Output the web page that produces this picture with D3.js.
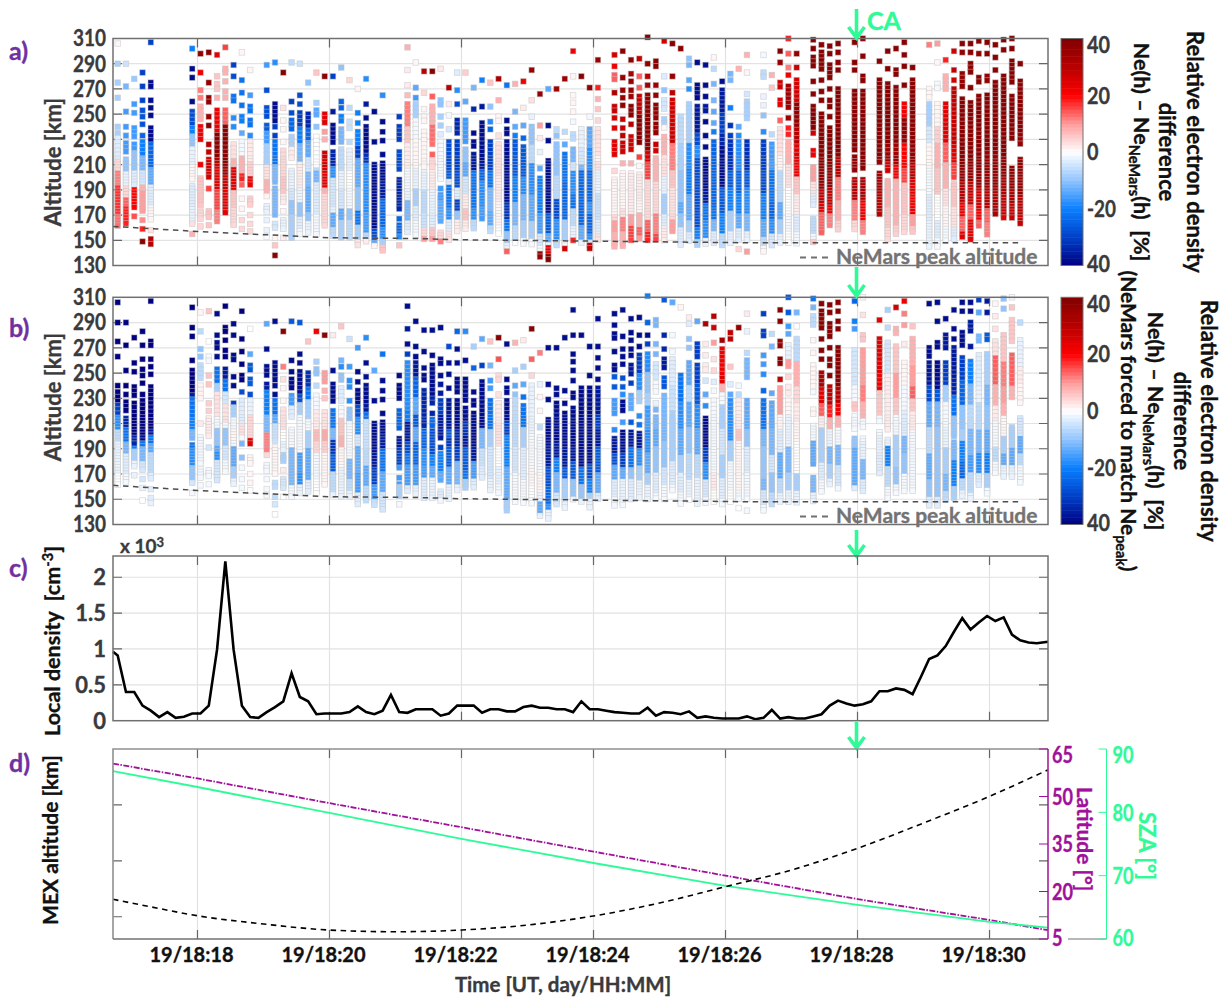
<!DOCTYPE html>
<html>
<head>
<meta charset="utf-8">
<script src="https://cdn.jsdelivr.net/npm/d3@7"></script>
<style>
  html, body { margin: 0; padding: 0; background: #fff; }
  svg { display: block; }
  text { font-family: Lato, "Noto Sans", sans-serif; font-weight: 700; }
</style>
</head>
<body>
<svg id="chart" width="1228" height="997"></svg>
<script>
const width = 1228;
const height = 997;

// radar scan numbers along the pass, one sounding every scanCadence minutes
const scanStart = 16.791;
const scanCadence = 0.12545;
const scanNumber = [0,1,2,3,4, 9,10,11,12,13,14,15,16, 18,19,20,21,22,23,24,25,26,27,28,29,30,31,32,
  34,35,36,37,38,39,40,41,42,43,44,45,46,47,48,49,50,51,52,53,54,55,56,57,58,
  60,61,62,63,64,65,66,67,68,69,70,71,72,73,74,75,76, 78,79,80,81,82, 84,85,86,87, 89,90, 92,93,94,95,96,
  98,99,100,101,102,103,104,105,106,107,108,109];

// altitudes of each sounding in km: a number is one echo, [hi, lo] a continuous run of echoes
const scanAlts = [
  [306,290,275,263,240,235,[231,160]],
  [290,272,252,240,233,[227,220],[214,163]],
  [278,258,251,[239,232],[226,222],[219,193],[190,176],169],
  [283,272,261,253,248,242,233,[228,172],166,159,149],
  [307,275,272,261,255,249,[239,165],158,151,147],
  [302,286,279,260,[252,198],[193,162],155],
  [298,283,269,263,[256,245],[240,228],210,[199,178],[174,166],161],
  [299,275,[263,258],248,241,226,220,[214,200],191,[173,167],162],
  [297,280,274,270,263,[253,165]],
  [303,286,283,276,268,263,[253,170]],
  [289,280,[264,258],247,240,[226,162]],
  [299,277,267,257,[248,243],235,[228,197],194,183,175,166,159],
  [285,265,[256,250],[245,241],233,[228,192],[183,178],170,163,157],
  [289,269,[255,248],[241,187],185,[177,172],166,158,153],
  [291,[258,242],240,233,[228,196],[191,169],163,160,152,146,138],
  [283,255,245,238,228,[221,189],[185,180],173,[166,158],152],
  [291,260,251,[245,238],[232,214],[205,152]],
  [290,265,258,[251,153]],
  [275,[250,154]],
  [283,259,[253,248],240,[232,153]],
  [280,[250,243],236,230,[219,161]],
  [280,252,[241,226],[220,152]],
  [287,260,255,[248,243],[238,228],[222,152]],
  [277,255,244,239,228,[221,150]],
  [270,251,243,[236,145]],
  [278,258,247,[240,149]],
  [252,228,[210,144]],
  [265,244,236,229,218,[211,140]],
  [248,[240,227],[220,205],[198,173],167,[162,152],146],
  [303,285,273,265,[258,155]],
  [291,271,263,[258,153]],
  [284,267,254,[248,243],[236,208],[204,150]],
  [284,264,[256,224],218,[213,208],[204,150]],
  [286,[261,256],248,241,234,[228,198],191,[186,163],[156,148]],
  [271,258,249,238,[228,150]],
  [283,269,258,[245,235],[228,156]],
  [283,260,[245,228],[222,157]],
  [271,254,235,[228,222],[218,158]],
  [277,256,[243,165]],
  [275,256,244,238,[228,155]],
  [278,261,[248,242],233,[226,155]],
  [273,245,[238,234],[228,140]],
  [274,252,240,233,[228,146]],
  [276,255,241,231,[224,146]],
  [285,261,248,[240,146]],
  [266,241,231,220,207,[199,135]],
  [270,241,229,[213,134]],
  [270,238,233,[226,144]],
  [278,236,226,[218,142]],
  [300,280,265,259,252,244,[234,229],[222,149]],
  [280,[238,146]],
  [271,248,[238,143]],
  [293,271,262,254,245,[238,149]],
  [297,288,[281,277],267,[256,252],247,239,[228,216],205,[198,145]],
  [300,[279,277],269,263,257,246,239,233,[227,218],211,[203,145]],
  [293,282,276,269,264,[256,248],242,[232,219],211,[203,150]],
  [294,280,271,[264,225],216,209,[202,150]],
  [311,290,280,273,[265,150]],
  [292,288,273,265,[257,247],[242,233],226,221,[215,150]],
  [308,280,269,[261,253],[246,238],[232,150]],
  [306,280,267,[261,155]],
  [302,[248,168],[165,146]],
  [294,289,277,270,[258,149]],
  [291,[273,262],[256,146]],
  [289,273,264,[256,250],244,233,224,[214,146]],
  [295,286,274,261,252,243,236,[228,146]],
  [276,[269,146]],
  [282,277,255,241,233,[228,146]],
  [286,240,233,[228,150],143],
  [297,283,266,[260,244],[228,150],141],
  [297,[283,277],264,257,249,236,[228,139]],
  [281,271,234,[226,144]],
  [300,291,[275,271],[261,255],245,[238,146]],
  [310,298,287,281,[272,253],247,239,234,[228,146]],
  [298,287,[277,146]],
  [309,302,[295,287],276,266,[256,238],235,[221,216],[208,178],[167,148]],
  [305,[299,285],277,268,261,[250,156]],
  [304,298,[289,279],270,261,256,248,[239,160]],
  [306,299,291,285,[270,158]],
  [307,291,285,[268,220],[216,204],[198,158]],
  [310,296,[280,275],[268,205],[198,155]],
  [292,[277,210],[203,169]],
  [300,286,[274,205],[197,150]],
  [302,[285,280],[271,155]],
  [307,297,288,273,[258,155]],
  [287,[277,155]],
  [305,[270,262],[258,145]],
  [306,291,[274,268],[258,145]],
  [293,[280,270],[258,148]],
  [300,285,277,[270,200],[195,150]],
  [306,299,[282,271],[262,152]],
  [306,299,[290,283],271,[259,150]],
  [308,298,[279,274],[264,160]],
  [307,298,[280,274],[265,153]],
  [305,295,285,[275,169]],
  [309,301,[280,167]],
  [310,302,[292,275],[264,230],[207,166]],
  [290,[276,225],[214,163]]
];

// panel a: [altitude, difference %], each value holds from that altitude down to the next entry
const diffA = [
  [[306,1],[290,-8],[231,-3],[214,4],[205,12],[192,17],[170,13]],
  [[290,-5],[272,-12],[252,-16],[227,-16],[214,-10],[203,-2],[192,4],[184,14],[175,18],[163,14]],
  [[278,-9],[258,-16],[226,-16],[219,-10],[205,-3],[190,20],[169,15]],
  [[283,-30],[253,-27],[233,-24],[228,-20],[216,-12],[205,-4],[193,8],[188,10],[166,11],[159,18],[149,38]],
  [[307,-30],[275,-38],[227,-24],[207,-14],[193,-3],[177,1],[158,3],[151,30]],
  [[302,-20],[286,-38],[252,-28],[240,-20],[235,-10],[224,-2],[210,1],[195,-3],[175,-2],[165,3],[155,8]],
  [[298,36],[283,22],[269,12],[256,8],[240,22],[228,28],[210,22],[199,6],[174,4]],
  [[299,38],[275,36],[248,34],[241,38],[226,30],[220,28],[214,26],[191,16],[173,6]],
  [[297,24],[280,6],[263,8],[253,22],[235,38],[214,30],[207,24],[190,16],[173,12]],
  [[303,16],[286,8],[253,14],[243,38],[207,34],[200,28],[190,24],[170,20]],
  [[289,-30],[280,-28],[264,-22],[247,-18],[226,3],[216,8],[206,24],[195,24],[188,6],[175,4]],
  [[299,1],[277,-22],[248,-20],[235,-14],[228,-1],[215,8],[202,18],[194,14],[183,1],[166,4]],
  [[285,1],[265,-16],[256,-22],[233,-18],[228,2],[212,5],[199,22],[183,5],[170,4]],
  [[289,-16],[269,-28],[241,-26],[236,-16],[225,-8],[208,3],[198,8],[185,1],[177,-2],[153,0]],
  [[291,-18],[258,-38],[240,-30],[228,-22],[210,-12],[191,-12],[163,-4],[152,1],[146,6],[138,38]],
  [[283,38],[255,3],[245,1],[228,1],[221,4],[200,6],[185,2],[173,1],[166,-2],[152,2]],
  [[291,-6],[260,-30],[251,-28],[245,-24],[232,-8],[225,2],[205,-2],[190,-4],[180,-10],[170,-8],[152,3]],
  [[290,-5],[265,-28],[251,-30],[238,-20],[226,-12],[212,2],[190,-2],[180,-10],[168,-3],[158,-1],[153,2]],
  [[275,-10],[250,-34],[238,-24],[228,-14],[214,-4],[203,-12],[191,-14],[172,-10],[165,-2]],
  [[283,6],[259,-8],[253,-14],[240,-10],[232,0],[207,-6],[203,-12],[195,-3],[170,-1]],
  [[280,38],[250,24],[236,10],[230,8],[219,26],[205,24],[190,8],[185,4]],
  [[280,-30],[252,-36],[241,-38],[220,-34],[208,-18],[198,-4],[175,-2],[170,-14],[160,-6],[152,-2]],
  [[287,-10],[260,-24],[248,-20],[238,-12],[222,-6],[205,-2],[190,-4],[175,-14],[165,-8],[152,-2]],
  [[277,4],[255,-6],[244,-5],[228,-6],[221,-2],[205,0],[190,-1],[175,-10],[165,-6],[152,1],[150,6]],
  [[270,1],[251,-20],[236,-20],[226,-30],[215,-14],[190,-10],[172,-22],[160,-8],[150,3]],
  [[278,-18],[258,-36],[247,-38],[220,-32],[210,-18],[170,-16],[155,-6],[150,2]],
  [[252,-38],[228,-38],[210,-38],[170,-38],[158,-28],[150,-14],[146,1]],
  [[265,-18],[244,-38],[195,-36],[182,-24],[160,-18],[150,-8],[146,6],[140,28]],
  [[248,-30],[240,-30],[220,-28],[205,-26],[198,-34],[173,-30],[167,-24],[155,-18],[146,6]],
  [[303,8],[285,2],[273,2],[265,7],[258,12],[240,6],[228,2],[205,-1],[190,-2],[180,-12],[165,-3],[155,3]],
  [[291,1],[271,-14],[263,-16],[258,-8],[245,-1],[230,1],[205,-2],[190,-8],[175,-3],[165,-1]],
  [[284,30],[267,4],[254,1],[204,-2],[190,-6],[170,-5],[160,4],[152,10]],
  [[284,38],[264,14],[256,8],[240,13],[218,14],[213,4],[204,2],[190,-2],[170,-3],[160,6],[152,10]],
  [[286,2],[261,-10],[248,-8],[234,-3],[228,-1],[198,-1],[191,-16],[180,-14],[163,-2],[156,4],[150,12]],
  [[271,30],[258,2],[249,-1],[238,-4],[228,-28],[205,-26],[198,-3],[192,-22],[175,-18],[165,-3],[155,3],[150,14]],
  [[283,-3],[269,-18],[258,-28],[245,-34],[228,-30],[205,-28],[190,-3],[182,-30],[172,-10],[165,2]],
  [[283,5],[260,-14],[245,-16],[228,-18],[222,-10],[210,-14],[200,-4],[185,2],[175,6],[165,2]],
  [[271,-12],[254,-34],[235,-38],[218,-36],[205,-22],[190,-22],[175,-18],[165,-6],[158,-1]],
  [[277,-20],[256,-36],[243,-38],[212,-36],[205,-24],[195,-18],[175,-16],[165,-6]],
  [[275,6],[256,-10],[244,-18],[238,-24],[228,-30],[205,-22],[190,-12],[172,-14],[160,-6],[155,-1]],
  [[278,32],[261,8],[248,1],[233,3],[226,3],[200,2],[180,1],[160,0]],
  [[273,-22],[245,-38],[190,-38],[180,-32],[165,-22],[155,-10],[148,-2],[142,14]],
  [[274,8],[252,-12],[240,-14],[233,-20],[228,-26],[200,-20],[180,-12],[160,-6],[150,0]],
  [[276,22],[255,2],[241,-14],[231,-24],[224,-26],[200,-18],[185,-12],[165,-8],[150,-1]],
  [[285,36],[261,3],[248,-2],[240,-10],[225,-6],[210,-18],[185,-14],[165,-8],[150,-1]],
  [[266,36],[241,10],[231,2],[220,-2],[207,-14],[199,-20],[170,-16],[155,-4],[145,-1],[140,36]],
  [[270,-14],[241,-38],[213,-38],[178,-38],[170,-26],[155,-14],[148,-2],[145,24],[138,38]],
  [[270,34],[238,-6],[233,-10],[226,-10],[200,-6],[182,-28],[165,-18],[150,-6],[146,22]],
  [[278,34],[236,-6],[226,-14],[218,-22],[195,-24],[175,-24],[165,-8],[150,-1],[145,26]],
  [[300,22],[280,1],[244,-1],[234,-6],[222,-12],[212,-4],[205,-18],[185,-22],[175,-6],[160,-2],[150,18]],
  [[280,38],[238,-2],[222,-4],[210,-12],[205,-24],[175,-24],[160,-14],[150,-2],[146,28]],
  [[271,36],[248,-1],[238,-14],[222,-18],[205,-24],[180,-18],[170,-24],[155,-18],[150,-4],[146,28]],
  [[293,36],[271,18],[262,8],[254,6],[245,4],[238,3],[215,1],[211,3],[205,-2],[185,-5],[165,-3],[155,3],[150,24]],
  [[297,26],[288,22],[281,14],[267,32],[256,28],[247,26],[239,24],[228,24],[205,4],[198,1],[170,4],[165,10],[155,8]],
  [[300,38],[279,36],[246,28],[233,30],[227,26],[211,8],[203,1],[175,3],[168,12],[155,8]],
  [[293,38],[282,32],[276,36],[264,34],[256,38],[242,30],[232,26],[211,8],[203,2],[180,2],[170,10],[160,16],[150,10]],
  [[294,28],[280,14],[271,14],[264,28],[250,38],[225,38],[216,16],[209,1],[202,2],[180,1],[170,8],[160,14],[152,10]],
  [[311,38],[290,36],[280,30],[273,34],[265,36],[256,38],[232,36],[221,26],[212,16],[198,4],[175,4],[165,14],[155,18]],
  [[292,38],[273,34],[265,36],[257,36],[226,28],[221,26],[215,8],[195,4],[180,4],[170,12],[155,16]],
  [[308,26],[280,-3],[269,-10],[261,-4],[253,-8],[242,1],[232,8],[218,3],[200,-2],[185,-8],[170,-3],[160,2]],
  [[306,38],[280,36],[267,30],[261,26],[232,28],[225,12],[205,6],[190,3],[170,4],[165,10],[155,8]],
  [[302,38],[248,-6],[225,-8],[205,-10],[180,-14],[170,-10],[160,-3],[146,2]],
  [[294,-10],[289,-12],[277,-14],[270,-18],[258,-8],[240,-8],[225,-18],[205,-20],[185,-14],[165,-8],[155,-3]],
  [[291,-38],[273,-38],[256,-36],[235,-28],[225,-18],[215,-28],[195,-28],[175,-28],[160,-20],[150,-8],[146,-1]],
  [[289,-38],[264,-38],[256,-36],[244,-38],[214,-38],[190,-36],[178,-22],[165,-18],[150,-2]],
  [[295,1],[286,-6],[274,-12],[252,-14],[236,-20],[228,-24],[175,-22],[165,-12],[155,-3]],
  [[276,-38],[269,-36],[250,-30],[235,-34],[225,-38],[205,-38],[190,-26],[170,-20],[155,-6]],
  [[282,-12],[277,-12],[255,-20],[241,-32],[233,-30],[228,-32],[205,-26],[190,-20],[172,-8],[155,-2]],
  [[286,8],[240,-14],[233,-18],[228,-18],[205,-24],[185,-20],[170,-14],[158,-3],[143,4]],
  [[297,8],[283,1],[266,-4],[260,-8],[246,-14],[228,-32],[205,-26],[190,-18],[170,-12],[155,-2],[141,10]],
  [[297,-1],[283,-6],[264,-2],[249,-10],[236,-18],[228,-30],[205,-28],[185,-20],[165,-14],[152,-6],[145,1],[139,14]],
  [[281,8],[271,6],[234,-6],[226,-16],[205,-22],[180,-24],[165,-18],[155,-4],[144,3]],
  [[300,38],[291,36],[275,26],[261,24],[245,14],[238,3],[215,1],[205,-6],[180,-14],[165,-8],[155,-2],[146,1]],
  [[310,18],[298,14],[287,12],[281,22],[272,34],[253,36],[247,34],[239,18],[228,8],[210,3],[190,0],[170,-1],[155,0]],
  [[298,36],[287,28],[277,26],[260,36],[240,30],[225,24],[210,22],[200,6],[185,2],[170,-3],[155,-1],[146,1]],
  [[309,38],[256,38],[235,26],[221,22],[208,10],[195,3],[185,-3],[178,-6],[167,-6],[155,-1],[150,6]],
  [[305,38],[250,38],[225,38],[205,36],[190,28],[178,24],[170,14],[156,10]],
  [[304,38],[248,38],[239,38],[205,36],[190,28],[178,22],[170,12],[160,8]],
  [[306,38],[270,38],[225,38],[215,30],[200,12],[180,8],[165,5]],
  [[307,38],[268,38],[216,36],[198,30],[180,12],[165,4],[150,10]],
  [[310,38],[296,38],[280,38],[205,38],[198,32],[180,22],[165,12],[155,8]],
  [[292,38],[277,38],[215,36],[203,32],[185,30],[169,28]],
  [[300,38],[286,38],[274,38],[225,34],[210,26],[197,8],[175,6],[160,4]],
  [[302,38],[285,38],[271,38],[225,34],[210,22],[198,8],[175,8],[160,5]],
  [[307,38],[288,38],[273,38],[258,22],[245,36],[235,36],[225,20],[205,16],[195,6],[170,4]],
  [[287,38],[277,38],[225,36],[210,30],[197,24],[185,22],[170,10],[160,6]],
  [[305,12],[270,1],[258,-8],[240,-4],[225,1],[205,-1],[185,-3],[165,-2],[150,-2],[145,4]],
  [[306,10],[291,1],[274,-1],[258,1],[240,5],[225,8],[205,6],[185,0],[165,-3],[150,-1],[145,1]],
  [[293,18],[280,8],[258,24],[225,14],[210,8],[190,3],[175,1],[160,-1]],
  [[300,26],[285,28],[277,26],[270,28],[225,24],[210,16],[195,6],[175,3],[160,-3],[150,-1]],
  [[306,38],[299,36],[282,36],[262,38],[210,36],[195,30],[180,22],[168,14],[155,24]],
  [[306,38],[271,38],[259,38],[210,36],[195,28],[178,14],[165,24],[150,26]],
  [[308,38],[298,36],[279,38],[264,38],[205,36],[190,26],[175,22],[165,14]],
  [[307,38],[280,36],[265,38],[225,36],[205,34],[190,30],[175,14],[162,12]],
  [[305,38],[275,38],[225,36],[205,36],[190,32],[170,28]],
  [[309,38],[280,38],[225,38],[215,36],[200,32],[185,28],[170,24]],
  [[310,38],[264,38],[240,38],[228,36],[207,36],[190,32],[178,28],[166,34]],
  [[290,38],[276,38],[235,36],[215,36],[200,36],[185,30],[170,28]]
];

// panel b: same soundings, NeMars forced to match the measured peak density
const diffB = [
  [[306,-40],[225,-30],[215,-18],[205,-6],[195,-2],[170,0]],
  [[290,-40],[220,-36],[214,-34],[205,-22],[195,-12],[185,-3],[170,-1]],
  [[278,-40],[200,-34],[192,-20],[188,-8],[180,-2]],
  [[283,-40],[200,-38],[196,-22],[190,-12],[180,-4],[165,-2],[150,0]],
  [[307,-40],[205,-36],[200,-22],[192,-14],[185,-6],[170,-3],[150,-2]],
  [[302,-40],[235,-36],[230,-22],[215,-20],[205,-12],[195,-22],[190,-18],[175,-10],[165,-4],[155,-1]],
  [[298,1],[283,-6],[269,-10],[256,-6],[245,-1],[240,1],[230,8],[228,3],[210,2],[199,-1]],
  [[299,6],[275,0],[263,-1],[248,6],[226,5],[214,2],[200,0],[191,-4],[173,-1]],
  [[297,-38],[263,-38],[253,-22],[240,-8],[235,3],[215,-1],[205,-10],[192,-14],[186,-18],[180,-4],[165,-2]],
  [[303,-40],[253,-36],[246,-22],[236,-4],[225,3],[210,-1],[205,-10],[192,-4],[180,-1]],
  [[289,-38],[240,-38],[236,-30],[225,-8],[216,-1],[205,1],[195,-1],[190,-14],[175,-8],[165,-2]],
  [[299,-40],[243,-40],[235,-28],[228,-3],[210,3],[200,-1],[194,-12],[183,-10],[175,-1]],
  [[285,0],[265,-14],[256,-26],[233,-28],[228,-2],[215,4],[198,24],[190,4],[183,1],[157,0]],
  [[289,-14],[269,-38],[241,-36],[236,-20],[215,-12],[202,12],[188,10],[185,4],[177,-1]],
  [[291,-38],[233,-38],[228,-22],[215,-14],[210,-5],[196,1],[169,4],[163,-6],[146,-4],[138,0]],
  [[283,38],[255,12],[245,3],[238,1],[221,3],[205,0],[195,-2],[185,-8],[175,2],[166,-4],[152,0]],
  [[291,-26],[260,-38],[238,-38],[232,-16],[225,-3],[205,-1],[190,-12],[170,-12],[160,-1]],
  [[290,-26],[265,-38],[245,-38],[232,-28],[225,-8],[215,-1],[190,-1],[185,-16],[170,-18],[160,-2]],
  [[275,6],[250,-32],[240,-22],[228,-8],[212,-1],[203,-8],[190,-14],[170,-14],[165,-3]],
  [[283,22],[259,-8],[253,-10],[240,-6],[232,-1],[222,2],[205,7],[195,4],[185,-1],[165,0]],
  [[280,38],[250,10],[236,8],[230,6],[219,3],[205,9],[195,5],[185,1]],
  [[280,2],[252,-38],[226,-36],[220,-22],[205,-12],[195,-32],[185,-26],[170,-6],[155,-2]],
  [[287,6],[260,-12],[255,-18],[248,-10],[238,-3],[222,-1],[215,6],[200,8],[190,1],[175,-2]],
  [[277,-5],[255,-16],[244,-18],[228,-18],[221,-10],[210,-1],[190,-1],[180,-12],[165,-6],[155,-2]],
  [[270,-16],[251,-38],[232,-38],[226,-28],[215,-18],[200,-4],[190,-14],[170,-16],[155,-3]],
  [[278,-18],[258,-38],[226,-36],[220,-22],[212,-5],[190,-6],[175,-14],[160,-6]],
  [[252,-14],[228,-38],[210,-38],[185,-36],[175,-30],[160,-16],[148,-5]],
  [[265,-22],[244,-38],[200,-36],[190,-22],[170,-14],[155,-4],[140,-1]],
  [[248,-38],[226,-36],[220,-24],[205,-36],[190,-30],[175,-16],[160,-8],[150,-2],[146,-1]],
  [[303,-38],[285,-36],[273,-38],[265,-30],[258,-18],[220,-20],[210,-36],[195,-28],[185,-22],[175,-16],[160,-3],[155,-1]],
  [[291,-38],[263,-38],[258,-36],[245,-24],[230,-14],[218,-26],[205,-14],[195,-24],[175,-16],[160,-2]],
  [[284,-38],[267,-38],[248,-38],[236,-34],[205,-24],[190,-18],[175,-16],[165,-3]],
  [[284,-38],[264,-38],[256,-38],[230,-34],[215,-24],[205,-28],[185,-20],[175,-14],[165,-2]],
  [[286,-38],[248,-38],[241,-36],[228,-30],[215,-36],[198,-36],[191,-30],[186,-20],[170,-14],[163,-3],[150,-1]],
  [[271,-28],[258,-38],[228,-36],[205,-26],[198,-32],[190,-26],[175,-14],[160,-2]],
  [[283,-24],[269,-38],[228,-38],[205,-34],[190,-30],[178,-12],[160,-2]],
  [[283,-18],[260,-38],[222,-38],[210,-32],[200,-36],[190,-26],[172,-22],[165,-8],[158,-1]],
  [[271,-8],[254,-24],[235,-38],[205,-38],[190,-36],[178,-16],[165,-3]],
  [[277,-14],[256,-30],[243,-38],[212,-38],[205,-12],[190,-5],[175,-3],[165,-2]],
  [[275,6],[256,-12],[244,-16],[238,-16],[228,-22],[205,-8],[190,-4],[165,-2]],
  [[278,38],[261,15],[248,4],[233,3],[226,2],[210,3],[190,0],[175,-2],[160,-1]],
  [[273,-38],[228,-38],[212,-30],[200,-20],[175,-14],[150,-8],[141,-2]],
  [[274,8],[252,-8],[240,-14],[233,-10],[228,-6],[190,-4],[170,-1]],
  [[276,2],[255,-8],[241,-14],[231,-22],[224,-22],[205,-8],[190,-3],[165,-1]],
  [[285,38],[261,14],[248,4],[240,-2],[200,-1],[175,1],[160,0],[150,-1]],
  [[266,12],[241,-2],[231,1],[207,-6],[199,-1],[170,1],[155,-2],[148,-14],[138,-2]],
  [[270,-38],[213,-38],[190,-36],[175,-28],[160,-24],[145,-18],[140,-2]],
  [[270,-38],[226,-38],[195,-36],[182,-20],[170,-12],[155,-4],[146,-1]],
  [[278,-38],[236,-38],[218,-38],[190,-36],[175,-26],[165,-8],[150,-2]],
  [[300,-38],[265,-38],[244,-38],[234,-38],[222,-38],[190,-36],[178,-26],[165,-10],[150,-2]],
  [[280,-38],[248,-38],[238,-38],[190,-38],[175,-22],[160,-10],[150,-2]],
  [[271,-38],[238,-38],[195,-38],[178,-28],[165,-20],[155,-8],[150,-2]],
  [[293,-38],[245,-38],[238,-36],[215,-30],[205,-36],[190,-26],[170,-14],[155,-3]],
  [[297,-38],[256,-38],[247,-26],[228,-16],[205,-18],[198,-36],[185,-28],[175,-14],[165,-3],[150,-1]],
  [[300,-38],[257,-38],[246,-28],[239,-26],[233,-18],[227,-38],[211,-16],[203,-38],[185,-30],[175,-14],[165,-2],[150,-1]],
  [[293,-38],[264,-38],[256,-36],[242,-30],[232,-14],[219,-36],[211,-26],[203,-36],[190,-22],[175,-10],[165,-3]],
  [[294,-38],[271,-38],[264,-30],[250,-18],[235,-8],[225,-14],[216,-18],[209,-22],[202,-36],[190,-18],[175,-8],[165,-2]],
  [[311,-20],[290,-24],[280,-38],[273,-30],[265,-18],[250,-10],[235,-8],[225,-16],[205,-18],[185,-14],[170,-8],[160,-2]],
  [[292,-12],[273,-12],[265,-12],[257,-4],[242,-1],[233,-2],[221,-12],[205,-14],[190,-10],[170,-3],[155,-1]],
  [[308,-26],[280,-34],[261,-36],[253,-30],[246,-26],[238,-20],[232,-12],[215,-12],[195,-10],[175,-4],[160,-1]],
  [[306,-14],[280,-1],[261,-3],[240,-5],[220,-8],[195,-8],[178,-3],[160,-1]],
  [[302,1],[248,-22],[225,-18],[205,-14],[185,-8],[170,-3],[155,-1],[146,0]],
  [[294,2],[289,-3],[277,-10],[258,-14],[240,-6],[225,-14],[205,-10],[185,-6],[165,-2],[150,0]],
  [[291,-14],[273,-30],[256,-30],[240,-26],[225,-18],[205,-14],[185,-6],[165,-2],[146,-1]],
  [[289,32],[273,2],[256,2],[244,-4],[233,-14],[224,-18],[214,-38],[190,-30],[178,-18],[165,-4],[150,-1]],
  [[295,30],[286,26],[274,10],[261,3],[252,4],[243,-3],[236,-1],[190,-1],[170,2],[155,0]],
  [[276,34],[269,22],[248,24],[242,8],[235,-1],[225,-8],[205,-4],[185,-8],[165,-3],[150,-1]],
  [[282,28],[277,30],[255,6],[241,-3],[233,-14],[228,-18],[215,-18],[195,-8],[180,-1],[155,0]],
  [[286,36],[240,-1],[233,-6],[228,2],[205,6],[195,1],[175,1],[155,-1],[143,0]],
  [[297,2],[283,-2],[266,-6],[260,-12],[246,-14],[228,-14],[205,-10],[190,-3],[170,-1]],
  [[297,-30],[283,-30],[264,-16],[249,-18],[236,-24],[228,-22],[205,-12],[190,-10],[165,-12],[155,-4],[145,-1]],
  [[281,-6],[271,-12],[234,-14],[226,-14],[205,-12],[185,-4],[170,-10],[155,-6],[144,-1]],
  [[300,38],[291,38],[275,36],[261,38],[245,28],[238,10],[215,1],[205,-3],[185,-14],[165,-6],[155,-2]],
  [[310,-26],[298,-26],[287,-16],[281,-14],[272,-2],[260,10],[247,4],[239,2],[228,1],[215,-2],[190,-12],[170,-8],[155,-2]],
  [[298,-12],[287,0],[277,-6],[260,8],[240,4],[225,2],[210,1],[195,0],[170,-8],[155,-2]],
  [[309,-22],[302,-12],[295,-6],[276,1],[256,1],[235,-1],[221,1],[208,-1],[195,-14],[178,-16],[167,-12],[155,-2]],
  [[305,38],[250,32],[240,24],[225,14],[216,2],[205,-8],[190,-8],[178,-3],[165,-1]],
  [[304,38],[248,38],[239,28],[225,18],[214,8],[205,-2],[190,-12],[178,-8],[165,-2]],
  [[306,38],[270,38],[240,30],[225,22],[215,8],[205,-1],[192,-12],[175,-4],[160,-1]],
  [[307,-24],[291,-20],[285,-16],[268,-4],[240,-1],[228,6],[216,-1],[205,-10],[190,-14],[170,-14],[160,-3]],
  [[310,1],[296,3],[280,6],[268,10],[240,12],[228,8],[215,-1],[195,-2],[180,-12],[165,-3]],
  [[292,24],[277,24],[250,22],[235,6],[215,-1],[200,-2],[185,-3],[169,-1]],
  [[300,-8],[286,-6],[274,-4],[250,2],[230,2],[205,-2],[192,-20],[175,-6],[160,-1]],
  [[302,26],[285,8],[271,6],[250,10],[230,6],[215,-1],[200,-8],[175,-10],[160,-1]],
  [[307,22],[297,12],[288,10],[273,2],[258,1],[240,-1],[220,-3],[200,-12],[185,-10],[170,-1]],
  [[287,6],[277,8],[255,10],[240,14],[228,6],[218,2],[205,-1],[175,-1]],
  [[305,-38],[270,-38],[258,-36],[240,-28],[225,-14],[205,-6],[185,-14],[165,-10],[150,-3]],
  [[306,-38],[291,-38],[274,-38],[258,-38],[235,-26],[225,-12],[205,-10],[185,-10],[165,-10],[150,-3]],
  [[293,-38],[280,-36],[258,-30],[240,-8],[225,-1],[205,-2],[190,-8],[170,-12],[155,-6]],
  [[300,-38],[285,-38],[270,-36],[245,-34],[232,-22],[215,-10],[195,-12],[180,-20],[160,-8],[150,-2]],
  [[306,-38],[282,-38],[262,-30],[245,-24],[225,-10],[205,-8],[195,-20],[180,-24],[165,-6],[155,-2]],
  [[306,-38],[290,-36],[271,-36],[259,-20],[240,-12],[225,-6],[205,-12],[185,-16],[170,-6],[155,-2]],
  [[308,-30],[298,-14],[279,-12],[264,-3],[240,-2],[225,-6],[205,-12],[185,-18],[170,-3]],
  [[307,-36],[280,-26],[265,-8],[240,-12],[225,-10],[205,-14],[185,-20],[170,-8],[158,-1]],
  [[305,1],[295,2],[285,3],[275,3],[262,14],[240,8],[225,2],[210,-1],[190,-6],[178,-1]],
  [[309,-10],[298,-1],[280,6],[260,12],[240,10],[225,8],[215,1],[200,-8],[185,-14],[175,-2]],
  [[310,-1],[302,6],[292,6],[264,14],[240,8],[228,4],[207,-8],[190,-14],[175,-2]],
  [[290,-6],[276,-2],[255,2],[240,1],[225,-4],[200,-14],[185,-6],[175,-1]]
];

// NeMars peak altitude, dashed in panels a and b
const peakMinutes = [16.72, 18, 19.06, 20, 21.3, 22, 24, 26.42, 30.5];
const peakAltitude = [161, 157, 154.3, 152, 151.4, 150.4, 149.3, 148, 148];

// panel c, local density in units of 10^3 cm-3, one value per scan from scan 0 to 112
const localDensity = [0.91,0.40,0.40,0.21,0.14,0.05,0.12,0.04,0.055,0.10,0.10,0.21,0.99,2.22,0.99,0.21,0.05,0.04,0.12,0.19,
  0.27,0.66,0.33,0.27,0.09,0.10,0.10,0.10,0.12,0.20,0.12,0.09,0.14,0.36,0.12,0.11,0.16,0.16,0.16,0.07,
  0.10,0.21,0.21,0.21,0.11,0.16,0.16,0.13,0.13,0.19,0.21,0.18,0.18,0.16,0.16,0.12,0.27,0.16,0.16,
  0.14,0.12,0.11,0.10,0.10,0.18,0.07,0.12,0.11,0.09,0.13,0.04,0.06,0.04,0.03,0.03,0.03,0.06,0.02,0.04,
  0.15,0.03,0.05,0.03,0.03,0.06,0.09,0.21,0.28,0.24,0.21,0.23,0.27,0.41,0.41,0.45,0.43,0.37,0.61,0.86,
  0.91,1.04,1.24,1.43,1.27,1.37,1.46,1.39,1.44,1.20,1.12,1.09,1.08,1.10];
const densityEdgeLeft = 0.96;

// panel d
const orbitMinutes = [16.72, 18, 20, 22, 24, 26, 28, 30, 30.88];
const latitude = [60.4, 55.7, 47.9, 40.3, 32.6, 25, 17.6, 11, 7.8];
const sza = [86.5, 84, 79.9, 75.8, 72, 68.4, 65.4, 62.7, 61.8];
const mexMinutes = [16.72, 17.28, 18, 19, 20, 21, 22, 23, 24, 25, 26, 27, 28, 29, 30, 30.88];
const mexAltitude = [1156, 1090, 1009, 935, 881, 866, 881, 926, 1007, 1123, 1269, 1418, 1612, 1838, 2077, 2312];

const timeTicks = [18, 20, 22, 24, 26, 28, 30];
const altTicks = [130, 150, 170, 190, 210, 230, 250, 270, 290, 310];
const densityTicks = [0, 0.5, 1, 1.5, 2];
const mexTicks = [1000, 1500, 2000];
const latTicks = [5, 20, 35, 50, 65];
const szaTicks = [60, 70, 80, 90];
const colorbarTicks = [40, 20, 0, -20, -40];

const dark = "#3a3a3c";
const purple = "#7030a0";
const latColor = "#a0109a";
const green = "#2efb97";

const svg = d3.select("#chart");
const plotLeft = 113;
const plotRight = 1048;

const x = d3.scaleLinear().domain([16.72, 30.886]).range([plotLeft, plotRight]);
const color = d3.scaleLinear()
  .domain([-40, -30, -20, -10, 0, 10, 20, 30, 40])
  .range(["#000080", "#0040c8", "#0a80ff", "#90c4ff", "#ffffff", "#ff9c9c", "#ff0000", "#b80000", "#800000"]);

function scanMinute(n) {
  return scanStart + n * scanCadence;
}

function expandAlts(list) {
  const out = [];
  list.forEach(function(a) {
    if (typeof a === "number") {
      out.push(a);
    } else {
      let h = a[0];
      while (h >= a[1]) {
        out.push(h);
        h -= h > 215 ? 3.3 : 2.3;
      }
    }
  });
  return out;
}

function lookup(steps, alt) {
  let v = steps[0][1];
  for (const s of steps) {
    if (s[0] >= alt) v = s[1];
  }
  return v;
}

// grid, box and inward ticks shared by all four panels
function frame(top, bottom, y, yTicks, rightTicks) {
  const g = svg.append("g");
  g.selectAll(".gx").data(timeTicks).enter().append("line")
    .attr("x1", d => x(d)).attr("x2", d => x(d))
    .attr("y1", top).attr("y2", bottom)
    .attr("stroke", "#e2e2e2").attr("stroke-width", 1.2);
  g.selectAll(".gy").data(yTicks).enter().append("line")
    .attr("x1", plotLeft).attr("x2", plotRight)
    .attr("y1", d => y(d)).attr("y2", d => y(d))
    .attr("stroke", "#e2e2e2").attr("stroke-width", 1.2);
  const tick = "#666";
  g.selectAll(".tt").data(timeTicks).enter().append("path")
    .attr("d", d => `M${x(d)},${top}v9M${x(d)},${bottom}v-9`)
    .attr("stroke", tick).attr("stroke-width", 1.2);
  g.selectAll(".ty").data(rightTicks).enter().append("path")
    .attr("d", d => `M${plotLeft},${y(d)}h9M${plotRight},${y(d)}h-9`)
    .attr("stroke", tick).attr("stroke-width", 1.2);
  return g;
}

function box(top, bottom) {
  svg.append("rect")
    .attr("x", plotLeft).attr("y", top)
    .attr("width", plotRight - plotLeft).attr("height", bottom - top)
    .attr("fill", "none").attr("stroke", "#707070").attr("stroke-width", 1.5);
}

// digits in the figure are narrower than Lato, so squeeze them to the measured width
function digits(sel, perChar) {
  sel.attr("textLength", d => d === -20 ? perChar * 2 + 6 : String(d === -40 ? 40 : d).length * perChar)
    .attr("lengthAdjust", "spacingAndGlyphs");
}

function yLabels(y, ticks, fmt) {
  svg.append("g").selectAll("text").data(ticks).enter().append("text")
    .attr("x", 106).attr("y", d => y(d)).attr("dy", "0.36em")
    .attr("text-anchor", "end").attr("font-size", 22).attr("fill", dark)
    .text(fmt)
    .call(digits, 11);
}

// rotated label; parts are [text, subOrSupShift, dyBack] runs
function rotated(px, py, angle, parts, size, fill) {
  const t = svg.append("text")
    .attr("transform", `translate(${px},${py}) rotate(${angle})`)
    .attr("text-anchor", "middle").attr("font-size", size).attr("fill", fill);
  parts.forEach(function(p) {
    const s = t.append("tspan").text(p[0]);
    if (p[1]) {
      s.attr("font-size", size * 0.68).attr("dy", p[1]);
    }
    if (p[2]) {
      s.attr("dy", p[2]);
    }
  });
  return t;
}

function panelTag(label, py) {
  svg.append("text").attr("x", 9).attr("y", py).attr("font-size", 25).attr("fill", purple).text(label);
}

function arrow(top, bottom) {
  const ax = 856.5;
  svg.append("path")
    .attr("d", `M${ax},${top}V${bottom}M${ax - 8},${bottom - 11}L${ax},${bottom}L${ax + 8},${bottom - 11}`)
    .attr("fill", "none").attr("stroke", green).attr("stroke-width", 3.6);
}

function radarPanel(top, bottom, diff) {
  const y = d3.scaleLinear().domain([130, 310]).range([bottom, top]);
  frame(top, bottom, y, altTicks.slice(1, -1), altTicks.slice(1, -1));

  const peak = d3.line().x((d, i) => x(peakMinutes[i])).y(d => y(d));
  scanNumber.forEach(function(n, i) {
    const cx = x(scanMinute(n));
    const col = svg.append("g");
    col.selectAll("rect").data(expandAlts(scanAlts[i])).enter().append("rect")
      .attr("x", cx - 2.8).attr("y", d => y(d) - 2.8)
      .attr("width", 5.6).attr("height", 5.6)
      .attr("fill", d => color(lookup(diff[i], d)))
      .attr("stroke", "#c4c4c4").attr("stroke-width", 0.8).attr("stroke-opacity", 0.6);
  });
  svg.append("path").datum(peakAltitude)
    .attr("d", peak).attr("fill", "none")
    .attr("stroke", "#4d4d4d").attr("stroke-width", 1.5).attr("stroke-dasharray", "5.5,4.5");
  box(top, bottom);
  yLabels(y, altTicks, d => d);

  // legend
  svg.append("line")
    .attr("x1", 800).attr("x2", 830).attr("y1", bottom - 8).attr("y2", bottom - 8)
    .attr("stroke", "#707070").attr("stroke-width", 2).attr("stroke-dasharray", "6,5");
  svg.append("text").attr("x", 836).attr("y", bottom - 2)
    .attr("font-size", 21).attr("fill", "#737373").text("NeMars peak altitude");

  // colorbar
  const cbY = d3.scaleLinear().domain([-40, 40]).range([bottom, top]);
  const cbX = 1061;
  const cbW = 22;
  const levels = d3.range(-40, 40, 1.25);
  svg.append("g").selectAll("rect").data(levels).enter().append("rect")
    .attr("x", cbX).attr("width", cbW)
    .attr("y", d => cbY(d + 1.25)).attr("height", d => cbY(d) - cbY(d + 1.25) + 0.5)
    .attr("fill", d => color(d + 0.625));
  svg.append("rect").attr("x", cbX).attr("y", top).attr("width", cbW).attr("height", bottom - top)
    .attr("fill", "none").attr("stroke", "#707070").attr("stroke-width", 1);
  svg.append("g").selectAll("text").data(colorbarTicks).enter().append("text")
    .attr("x", cbX + cbW + 4)
    .attr("y", d => cbY(d))
    .attr("dy", d => d === 40 ? "0.62em" : d === -40 ? "0.3em" : "0.36em")
    .attr("font-size", 23).attr("fill", dark)
    .text(d => d === -40 ? "40" : d)
    .call(digits, 11.5);
}

// panels a and b
radarPanel(38.5, 265.5, diffA);
radarPanel(297.3, 524.5, diffB);

rotated(61, 162, -90, [["Altitude [km]"]], 22, dark);
rotated(61, 397, -90, [["Altitude [km]"]], 22, dark);
panelTag("a)", 60);
panelTag("b)", 337);

const unitGap = "(h)\u00a0\u00a0[%]";
rotated(1187, 152, 90, [["Relative electron density"]], 22, "#111");
rotated(1159, 152, 90, [["difference"]], 22, "#111");
rotated(1134, 152, 90, [["Ne(h) – Ne"], ["NeMars", 5], [unitGap, null, -5]], 21.5, "#111");

rotated(1201, 421, 90, [["Relative electron density"]], 22, "#111");
rotated(1174, 421, 90, [["difference"]], 22, "#111");
rotated(1148, 421, 90, [["Ne(h) – Ne"], ["NeMars", 5], [unitGap, null, -5]], 21.5, "#111");
rotated(1121, 421, 90, [["(NeMars forced to match Ne"], ["peak", 5], [")", null, -5]], 21, "#111");

arrow(9, 38);
svg.append("text").attr("x", 867).attr("y", 30).attr("font-size", 25).attr("fill", green).text("CA");
arrow(267, 296);
arrow(530, 556);
arrow(722, 748);

// panel c
const cTop = 556;
const cBottom = 720.7;
const yDensity = d3.scaleLinear().domain([0, 2.296]).range([cBottom, cTop]);
frame(cTop, cBottom, yDensity, densityTicks.slice(1), densityTicks.slice(1));
const densityPoints = [[x.domain()[0], densityEdgeLeft]]
  .concat(localDensity.map((d, i) => [i < 112 ? scanMinute(i) : x.domain()[1], d]));
svg.append("path").datum(densityPoints)
  .attr("d", d3.line().x(d => x(d[0])).y(d => yDensity(d[1])))
  .attr("fill", "none").attr("stroke", "#000").attr("stroke-width", 2.6);
box(cTop, cBottom);
svg.append("g").selectAll("text").data(densityTicks).enter().append("text")
  .attr("x", 106).attr("y", d => yDensity(d)).attr("dy", "0.36em")
  .attr("text-anchor", "end").attr("font-size", 22).attr("fill", dark)
  .text(d => d);
svg.append("text").attr("x", 120).attr("y", 553).attr("font-size", 19).attr("fill", dark)
  .text("x 10").append("tspan").attr("font-size", 13).attr("dy", -6).text("3");
rotated(60, 641, -90, [["Local density\u00a0\u00a0[cm"], ["-3", -7], ["]", null, 7]], 21.5, "#111");
panelTag("c)", 577);

// panel d
const dTop = 749;
const dBottom = 939;
const yMex = d3.scaleLinear().domain([801, 2500]).range([dBottom, dTop]);
const yLat = d3.scaleLinear().domain([5, 65]).range([dBottom, dTop]);
const ySza = d3.scaleLinear().domain([60, 90]).range([dBottom, dTop]);
frame(dTop, dBottom, yMex, [], mexTicks);

svg.append("path").datum(latitude)
  .attr("d", d3.line().x((d, i) => x(orbitMinutes[i])).y(d => yLat(d)))
  .attr("fill", "none").attr("stroke", latColor).attr("stroke-width", 1.8).attr("stroke-dasharray", "6,1.5,1.5,1.5");
svg.append("path").datum(sza)
  .attr("d", d3.line().x((d, i) => x(orbitMinutes[i])).y(d => ySza(d)))
  .attr("fill", "none").attr("stroke", green).attr("stroke-width", 1.8);
svg.append("path").datum(mexAltitude)
  .attr("d", d3.line().curve(d3.curveMonotoneX).x((d, i) => x(mexMinutes[i])).y(d => yMex(d)))
  .attr("fill", "none").attr("stroke", "#000").attr("stroke-width", 1.6).attr("stroke-dasharray", "5.5,4.5");

svg.append("path")
  .attr("d", `M${plotLeft},${dBottom}V${dTop}H${plotRight}`)
  .attr("fill", "none").attr("stroke", "#909090").attr("stroke-width", 1.6);
svg.append("line").attr("x1", plotLeft).attr("x2", plotRight).attr("y1", dBottom).attr("y2", dBottom)
  .attr("stroke", "#707070").attr("stroke-width", 1.5);

// latitude axis
svg.append("line").attr("x1", plotRight).attr("x2", plotRight).attr("y1", dTop).attr("y2", dBottom)
  .attr("stroke", latColor).attr("stroke-width", 1.5);
svg.append("g").selectAll("line").data(latTicks).enter().append("line")
  .attr("x1", plotRight - 9).attr("x2", plotRight)
  .attr("y1", d => yLat(d)).attr("y2", d => yLat(d))
  .attr("stroke", latColor).attr("stroke-width", 1);
svg.append("g").selectAll("text").data(latTicks).enter().append("text")
  .attr("x", plotRight + 4).attr("y", d => yLat(d))
  .attr("dy", d => d === 65 ? "0.62em" : d === 5 ? "0.3em" : "0.36em")
  .attr("font-size", 23).attr("fill", latColor).text(d => d)
  .call(digits, 10.5);
rotated(1077, 839, 90, [["Latitude [°]"]], 21, latColor);

// SZA axis
const szaX = 1106.5;
svg.append("line").attr("x1", szaX).attr("x2", szaX).attr("y1", dTop).attr("y2", dBottom)
  .attr("stroke", green).attr("stroke-width", 1);
svg.append("line").attr("x1", 1068).attr("x2", szaX).attr("y1", dBottom).attr("y2", dBottom)
  .attr("stroke", "#707070").attr("stroke-width", 1);
svg.append("g").selectAll("line").data(szaTicks).enter().append("line")
  .attr("x1", szaX - 8).attr("x2", szaX)
  .attr("y1", d => ySza(d)).attr("y2", d => ySza(d))
  .attr("stroke", green).attr("stroke-width", 1);
svg.append("g").selectAll("text").data(szaTicks).enter().append("text")
  .attr("x", szaX + 6).attr("y", d => ySza(d))
  .attr("dy", d => d === 90 ? "0.62em" : d === 60 ? "0.3em" : "0.36em")
  .attr("font-size", 23).attr("fill", green).text(d => d)
  .call(digits, 10.5);
rotated(1139, 846, 90, [["SZA [°]"]], 22, green);

// time axis
svg.append("g").selectAll("text").data(timeTicks).enter().append("text")
  .attr("x", d => x(d) - 6).attr("y", 962)
  .attr("text-anchor", "middle").attr("font-size", 20).attr("fill", "#111")
  .text(d => `19/18:${d}`);
svg.append("text").attr("x", 563).attr("y", 992)
  .attr("text-anchor", "middle").attr("font-size", 20.5).attr("fill", dark)
  .text("Time [UT, day/HH:MM]");
rotated(58, 840, -90, [["MEX altitude [km]"]], 21, "#111");
panelTag("d)", 772);

// the reference lettering is heavier than Lato bold
svg.selectAll("text").each(function() {
  const t = d3.select(this);
  t.attr("stroke", t.attr("fill")).attr("stroke-width", 0.35);
});
</script>
</body>
</html>
